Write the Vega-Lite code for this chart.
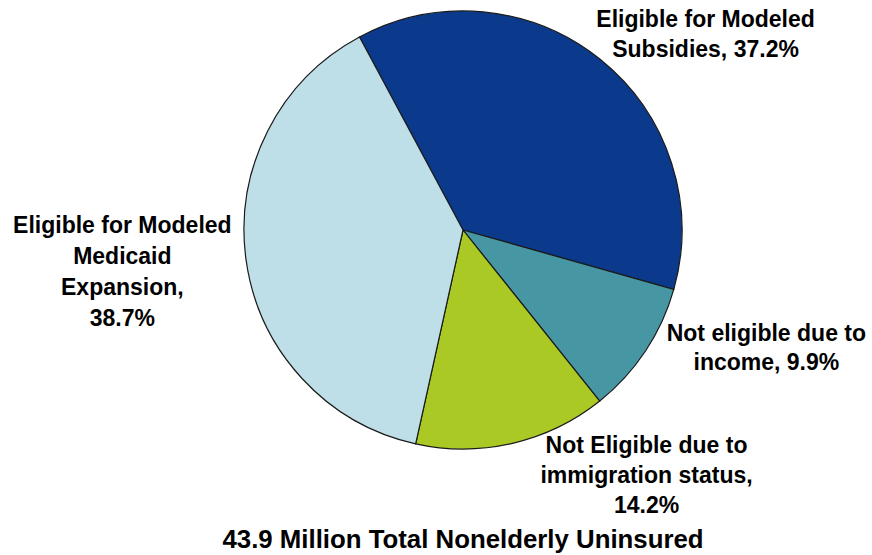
{
  "$schema": "https://vega.github.io/schema/vega-lite/v6.json",
  "autosize": "none",
  "width": 818,
  "height": 460,
  "padding": {"left": 54, "top": 0, "right": 0, "bottom": 95},
  "background": "white",
  "title": {
    "text": "43.9 Million Total Nonelderly Uninsured",
    "orient": "bottom",
    "anchor": "middle",
    "offset": 10,
    "font": "Liberation Sans",
    "fontSize": 25.8,
    "fontWeight": "bold",
    "color": "#000000"
  },
  "data": {
    "values": [
      {"group": "Eligible for Modeled Subsidies", "pct": 37.2, "rank": 1, "label": "Eligible for Modeled\nSubsidies, 37.2%"},
      {"group": "Not eligible due to income", "pct": 9.9, "rank": 2, "label": "Not eligible due to\nincome, 9.9%"},
      {"group": "Not Eligible due to immigration status", "pct": 14.2, "rank": 3, "label": "Not Eligible due to\nimmigration status,\n14.2%"},
      {"group": "Eligible for Modeled Medicaid Expansion", "pct": 38.7, "rank": 4, "label": "Eligible for Modeled\nMedicaid\nExpansion,\n38.7%"}
    ]
  },
  "encoding": {
    "theta": {"field": "pct", "type": "quantitative", "stack": true, "scale": {"range": [-0.492, 5.791]}},
    "order": {"field": "rank", "type": "quantitative"}
  },
  "layer": [
    {
      "mark": {"type": "arc", "outerRadius": 219, "stroke": "#1a1a1a", "strokeWidth": 1.2},
      "encoding": {
        "color": {
          "field": "group",
          "type": "nominal",
          "scale": {
            "domain": ["Eligible for Modeled Subsidies", "Not eligible due to income", "Not Eligible due to immigration status", "Eligible for Modeled Medicaid Expansion"],
            "range": ["#0b3a8d", "#4796a3", "#abc924", "#bfdfe8"]
          },
          "legend": null
        }
      }
    },
    {
      "mark": {"type": "text", "radius": 250, "dx": 86, "dy": -8, "align": "center", "baseline": "alphabetic", "lineBreak": "\n", "lineHeight": 30, "font": "Liberation Sans", "fontSize": 23, "fontWeight": "bold", "color": "#000000"},
      "encoding": {"text": {"condition": {"test": "datum.rank === 1", "field": "label", "type": "nominal"}, "value": ""}}
    },
    {
      "mark": {"type": "text", "radius": 250, "dx": 95, "dy": -27, "align": "center", "baseline": "alphabetic", "lineBreak": "\n", "lineHeight": 29, "font": "Liberation Sans", "fontSize": 23, "fontWeight": "bold", "color": "#000000"},
      "encoding": {"text": {"condition": {"test": "datum.rank === 2", "field": "label", "type": "nominal"}, "value": ""}}
    },
    {
      "mark": {"type": "text", "radius": 250, "dx": 127, "dy": -21, "align": "center", "baseline": "alphabetic", "lineBreak": "\n", "lineHeight": 30, "font": "Liberation Sans", "fontSize": 23, "fontWeight": "bold", "color": "#000000"},
      "encoding": {"text": {"condition": {"test": "datum.rank === 3", "field": "label", "type": "nominal"}, "value": ""}}
    },
    {
      "mark": {"type": "text", "radius": 250, "dx": -93, "dy": -31, "align": "center", "baseline": "alphabetic", "lineBreak": "\n", "lineHeight": 31, "font": "Liberation Sans", "fontSize": 23, "fontWeight": "bold", "color": "#000000"},
      "encoding": {"text": {"condition": {"test": "datum.rank === 4", "field": "label", "type": "nominal"}, "value": ""}}
    }
  ],
  "config": {"view": {"stroke": null}}
}
